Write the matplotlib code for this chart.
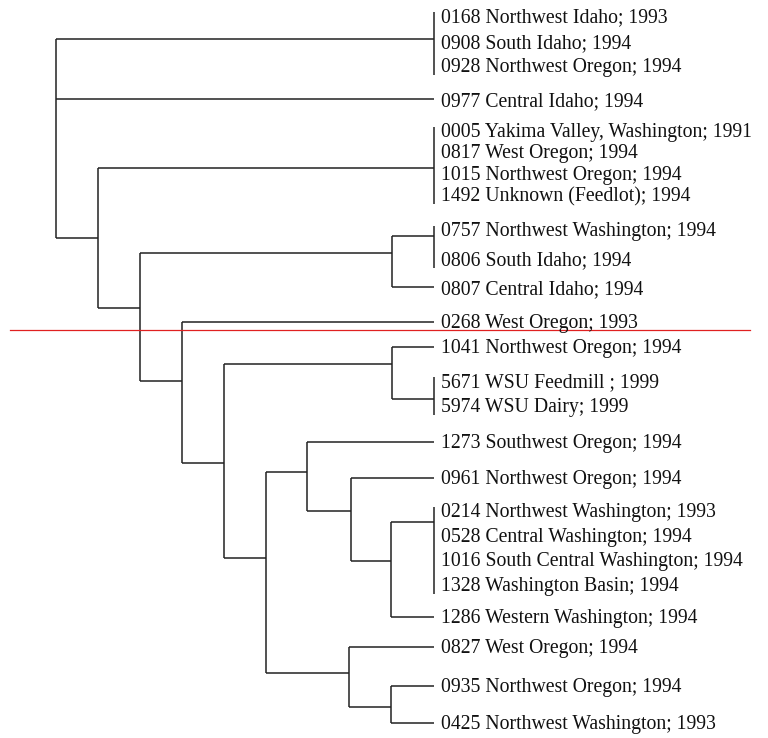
import matplotlib
matplotlib.use('Agg')
import matplotlib.pyplot as plt

# leaf labels, top to bottom, with the row (pixel-like) where each label sits
labels = ['0168 Northwest Idaho; 1993', '0908 South Idaho; 1994', '0928 Northwest Oregon; 1994',
          '0977 Central Idaho; 1994',
          '0005 Yakima Valley, Washington; 1991', '0817 West Oregon; 1994',
          '1015 Northwest Oregon; 1994', '1492 Unknown (Feedlot); 1994',
          '0757 Northwest Washington; 1994', '0806 South Idaho; 1994',
          '0807 Central Idaho; 1994', '0268 West Oregon; 1993', '1041 Northwest Oregon; 1994',
          '5671 WSU Feedmill ; 1999', '5974 WSU Dairy; 1999', '1273 Southwest Oregon; 1994',
          '0961 Northwest Oregon; 1994', '0214 Northwest Washington; 1993',
          '0528 Central Washington; 1994', '1016 South Central Washington; 1994',
          '1328 Washington Basin; 1994', '1286 Western Washington; 1994',
          '0827 West Oregon; 1994', '0935 Northwest Oregon; 1994', '0425 Northwest Washington; 1993']
label_y = [15, 41, 65, 99, 130, 151, 173, 194, 229, 258, 287, 321, 346, 380, 405,
           441, 477, 510, 535, 559, 584, 616, 646, 685, 722]

# tips (identical isolates share one tip); which labels belong to each tip, and where the branch meets it
tip_members = {'A': [0, 1, 2], '0977': [3], 'B': [4, 5, 6, 7], 'C': [8, 9], '0807': [10],
               '0268': [11], '1041': [12], 'D': [13, 14], '1273': [15], '0961': [16],
               'E': [17, 18, 19, 20], '1286': [21], '0827': [22], '0935': [23], '0425': [24]}
tip_y = {'A': 39, '0977': 99, 'B': 168, 'C': 236, '0807': 287, '0268': 322, '1041': 347,
         'D': 399, '1273': 442, '0961': 478, 'E': 522, '1286': 617, '0827': 647,
         '0935': 686, '0425': 723}
tip_x = 434

# internal nodes: (branch position, row where it meets its parent, children)
nodes = {
    'root': (56, None, ['A', '0977', 'n98']),
    'n98': (98, 238, ['B', 'n140']),
    'n140': (140, 308, ['n392a', 'n182']),
    'n392a': (392, 253, ['C', '0807']),
    'n182': (182, 381, ['0268', 'n224']),
    'n224': (224, 463, ['n392b', 'n266']),
    'n392b': (392, 364, ['1041', 'D']),
    'n266': (266, 558, ['n307', 'n349']),
    'n307': (307, 472, ['1273', 'n351']),
    'n351': (351, 511, ['0961', 'n391']),
    'n391': (391, 561, ['E', '1286']),
    'n349': (349, 673, ['0827', 'n391b']),
    'n391b': (391, 707, ['0935', '0425']),
}

cut_y = 330  # red cut-off line

fig = plt.figure(figsize=(7.68, 7.38), dpi=100)
ax = fig.add_axes([0, 0, 1, 1])
ax.set_xlim(0, 768)
ax.set_ylim(738, 0)
ax.axis('off')

lc = '#222222'
lw = 1.1


def pos(name):
    if name in nodes:
        return nodes[name][0], nodes[name][1]
    return tip_x, tip_y[name]


for name, (x, _, kids) in nodes.items():
    ys = [pos(k)[1] for k in kids]
    ax.plot([x, x], [min(ys), max(ys)], color=lc, lw=lw, solid_capstyle='butt')
    for k in kids:
        kx, ky = pos(k)
        ax.plot([x, kx], [ky, ky], color=lc, lw=lw, solid_capstyle='butt')

# vertical bar for tips holding several isolates
for name, members in tip_members.items():
    if len(members) > 1:
        top = label_y[members[0]] - 3
        bot = label_y[members[-1]] + 10
        ax.plot([tip_x, tip_x], [top, bot], color=lc, lw=lw, solid_capstyle='butt')

for lab, y in zip(labels, label_y):
    ax.text(tip_x + 7, y, lab, fontsize=14.2, family='Liberation Serif',
            color='#111111', va='center_baseline', ha='left')

ax.plot([10, 750], [cut_y, cut_y], color='#e02020', lw=0.9)

fig.savefig('out.png', dpi=100)
